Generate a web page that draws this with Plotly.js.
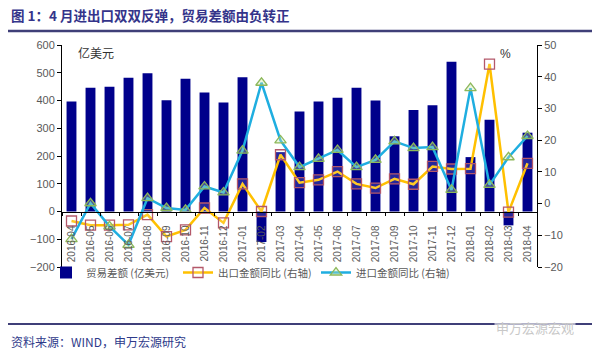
<!DOCTYPE html>
<html>
<head>
<meta charset="utf-8">
<script src="https://cdn.plot.ly/plotly-3.0.1.min.js"></script>
<style>
html,body{margin:0;padding:0;background:#fff;}
#chart{width:600px;height:358px;}
</style>
</head>
<body>
<div id="chart"></div>
<script>
const months = ['2016-04','2016-05','2016-06','2016-07','2016-08','2016-09','2016-10','2016-11','2016-12',
  '2017-01','2017-02','2017-03','2017-04','2017-05','2017-06','2017-07','2017-08','2017-09','2017-10','2017-11','2017-12',
  '2018-01','2018-02','2018-03','2018-04'];
const tradeBalance = [396, 446, 450, 482, 498, 401, 478, 429, 393, 484, -110, 214, 360, 396, 410, 446, 400, 271, 366, 383, 540, 196, 331, -50, 284];
const exportYoY = [-5.5, -6.8, -6.8, -6.7, -3.5, -10.4, -8.3, -1.4, -6.1, 6.2, -2.5, 15.4, 6.6, 7.5, 10.1, 6.2, 4.9, 7.8, 6.1, 11.7, 10.9, 11.0, 44.0, -2.7, 12.7];
const importYoY = [-11.2, 0.1, -7.2, -13.0, 1.7, -1.4, -2.0, 5.4, 3.5, 16.7, 38.1, 19.9, 11.5, 14.1, 16.9, 11.5, 13.8, 19.6, 17.5, 17.8, 4.3, 36.4, 5.9, 14.6, 21.3];
const seriesNames = ['贸易差额 (亿美元)', '出口金额同比 (右轴)', '进口金额同比 (右轴)'];
const titleText = '图 1：4 月进出口双双反弹，贸易差额由负转正';
const sourceText = '资料来源：WIND，申万宏源研究';

// pixel -> paper helpers (plot area 62..537 x 45..267)
const PL = 62, PR = 537, PT = 45, PB = 267;
const px = x => (x - PL) / (PR - PL);
const py = y => (PB - y) / (PB - PT);

const FONT = 'Liberation Sans, Arial, Noto Sans CJK SC, sans-serif';
const CJK = 'Noto Sans CJK SC, Liberation Sans, sans-serif';

const traces = [
  {type:'bar', x:months, y:tradeBalance, name:seriesNames[0], marker:{color:'#00008B'}, width:0.52, yaxis:'y', legend:'legend'},
  {type:'scatter', mode:'lines+markers', x:months, y:exportYoY, name:seriesNames[1], yaxis:'y2', legend:'legend2',
   line:{color:'#FFC000', width:2.5},
   marker:{symbol:'square', size:10, color:'rgba(255,255,255,0.15)', line:{color:'#B4586A', width:1.3}}},
  {type:'scatter', mode:'lines+markers', x:months, y:importYoY, name:seriesNames[2], yaxis:'y2', legend:'legend3',
   line:{color:'#1FAEE0', width:2.5},
   marker:{symbol:'triangle-up', size:10, color:'rgba(200,230,170,0.35)', line:{color:'#8DB85A', width:1.3}}}
];

const legendBase = (xpix) => ({orientation:'h', x:px(xpix), y:py(258), xanchor:'left', yanchor:'top',
  font:{size:10.5, color:'#595959', family:CJK}, bgcolor:'rgba(0,0,0,0)'});

const layout = {
  width:600, height:358,
  margin:{l:PL, r:600-PR, t:PT, b:358-PB},
  paper_bgcolor:'#fff', plot_bgcolor:'#fff',
  font:{family:FONT, color:'#595959', size:11},
  showlegend:true,
  xaxis:{type:'category', anchor:'free', position:0.25, range:[-0.5, 24.5],
    showline:true, linecolor:'#000', linewidth:1, ticks:'outside', tickson:'boundaries', ticklen:3, tickcolor:'#000',
    ticklabelstandoff:9,
    tickangle:-90, tickfont:{size:10, color:'#595959', family:FONT}, showgrid:false, zeroline:false},
  yaxis:{range:[-200, 600], dtick:100, showline:true, linecolor:'#000', linewidth:1, ticks:'outside', ticklen:4, tickcolor:'#000',
    tickfont:{size:11, color:'#595959'}, showgrid:false, zeroline:false},
  yaxis2:{overlaying:'y', side:'right', range:[-20, 50], dtick:10, showline:true, linecolor:'#000', linewidth:1,
    ticks:'outside', ticklen:4, tickcolor:'#000', tickfont:{size:11, color:'#595959'}, showgrid:false, zeroline:false},
  legend:legendBase(46),
  legend2:legendBase(178),
  legend3:legendBase(316),
  shapes:[
    {type:'line', xref:'paper', yref:'paper', x0:px(8), x1:px(592), y0:py(31), y1:py(31), line:{color:'#3F3F78', width:2.5}},
    {type:'line', xref:'paper', yref:'paper', x0:px(8), x1:px(592), y0:py(324), y1:py(324), line:{color:'#3F3F78', width:2}}
  ],
  annotations:[
    {text:titleText, xref:'paper', yref:'paper', x:px(9), y:py(15), xanchor:'left', yanchor:'middle', showarrow:false,
     font:{family:CJK, size:13.5, color:'#34348A', weight:'bold'}},
    {text:'亿美元', xref:'paper', yref:'paper', x:px(96), y:py(53), xanchor:'center', yanchor:'middle', showarrow:false,
     font:{family:CJK, size:12, color:'#333'}},
    {text:'%', xref:'paper', yref:'paper', x:px(505), y:py(54), xanchor:'center', yanchor:'middle', showarrow:false,
     font:{family:FONT, size:12, color:'#333'}},
    {text:sourceText, xref:'paper', yref:'paper', x:px(9), y:py(341), xanchor:'left', yanchor:'middle', showarrow:false,
     font:{family:CJK, size:12, color:'#2E3A8A'}},
    {text:'申万宏源宏观', xref:'paper', yref:'paper', x:px(535), y:py(327), xanchor:'center', yanchor:'middle', showarrow:false,
     font:{family:CJK, size:13, color:'#C8C8C8'}, bgcolor:'rgba(255,255,255,0.6)'}
  ]
};

Plotly.newPlot('chart', traces, layout, {displayModeBar:false, staticPlot:true});
</script>
</body>
</html>
